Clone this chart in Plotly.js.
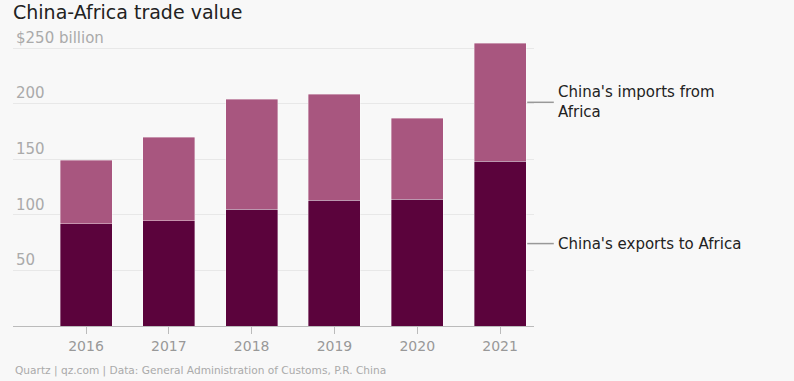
<!DOCTYPE html>
<html>
<head>
<meta charset="utf-8">
<script src="https://cdn.plot.ly/plotly-3.0.1.min.js"></script>
<style>
html,body{margin:0;padding:0;background:#f8f8f8;}
#chart{width:794px;height:381px;}
</style>
</head>
<body>
<div id="chart"></div>
<script>
// Data (billion US$)
const years = ["2016", "2017", "2018", "2019", "2020", "2021"];
const exportsToAfrica = [92.2, 94.7, 104.9, 113.2, 114.2, 148.3];
const importsFromAfrica = [56.9, 75.3, 99.3, 95.5, 72.7, 105.9];
const yTickVals = [50, 100, 150, 200, 250];
const yTickText = ["50", "100", "150", "200", "$250 billion"];
const seriesNames = ["China's exports to Africa", "China's imports from Africa"];
const sourceText = "Quartz | qz.com | Data: General Administration of Customs, P.R. China";

const FONT = "DejaVu Sans, sans-serif";
const last = years.length - 1;
const expMid = exportsToAfrica[last] / 2;
const impMid = exportsToAfrica[last] + importsFromAfrica[last] / 2;

const traces = [
  {
    type: "bar", x: years, y: exportsToAfrica, name: seriesNames[0],
    marker: {color: "#5b033c", line: {color: "rgba(255,255,255,0.6)", width: 0.6}},
    hoverinfo: "skip"
  },
  {
    type: "bar", x: years, y: importsFromAfrica, name: seriesNames[1],
    marker: {color: "#a8567f", line: {color: "rgba(255,255,255,0.6)", width: 0.6}},
    hoverinfo: "skip"
  }
];

const lx0 = 0.987, lx1 = 1.038, tx = 1.042;

const layout = {
  width: 794, height: 381,
  paper_bgcolor: "#f8f8f8", plot_bgcolor: "#f8f8f8",
  barmode: "stack", bargap: 0.372,
  showlegend: false,
  margin: {l: 13, r: 260, t: 20, b: 55, pad: 0},
  font: {family: FONT, color: "#999"},
  title: {
    text: "China-Africa trade value",
    font: {family: FONT, size: 19, color: "#222"},
    xref: "container", x: 13/794, xanchor: "left",
    yref: "container", y: 1 - 6/381, yanchor: "top"
  },
  xaxis: {
    type: "category", range: [-0.882, 5.41],
    showgrid: false, zeroline: false,
    showline: true, linecolor: "#bbb", linewidth: 1,
    ticks: "outside", ticklen: 7, tickcolor: "#bbb", tickwidth: 1,
    ticklabeloverflow: "allow",
    tickfont: {family: FONT, size: 14, color: "#999"},
    fixedrange: true
  },
  yaxis: {
    range: [0, 275.3],
    tickvals: yTickVals, ticktext: yTickText,
    ticklabelposition: "inside top",
    ticklabeloverflow: "allow",
    tickfont: {family: FONT, size: 15, color: "#aaa"},
    showgrid: true, gridcolor: "#e8e8e8", gridwidth: 1,
    zeroline: false, showline: false, ticks: "",
    fixedrange: true
  },
  shapes: [
    {type: "line", xref: "paper", yref: "y", x0: lx0, x1: lx1, y0: impMid, y1: impMid,
     line: {color: "#999", width: 1.5}},
    {type: "line", xref: "paper", yref: "y", x0: lx0, x1: lx1, y0: expMid, y1: expMid,
     line: {color: "#999", width: 1.5}}
  ],
  annotations: [
    {xref: "paper", yref: "y", x: tx, y: impMid, xanchor: "left", yanchor: "middle",
     text: "China's imports from<br>Africa", align: "left", showarrow: false,
     font: {family: FONT, size: 15, color: "#222"}},
    {xref: "paper", yref: "y", x: tx, y: expMid, xanchor: "left", yanchor: "middle",
     text: "China's exports to Africa", align: "left", showarrow: false,
     font: {family: FONT, size: 15, color: "#222"}},
    {xref: "paper", yref: "paper", x: 0, y: -44/306, xanchor: "left", yanchor: "middle",
     text: sourceText, showarrow: false,
     font: {family: FONT, size: 10.6, color: "#aaa"}}
  ]
};

Plotly.newPlot("chart", traces, layout, {displayModeBar: false, staticPlot: true});
</script>
</body>
</html>
